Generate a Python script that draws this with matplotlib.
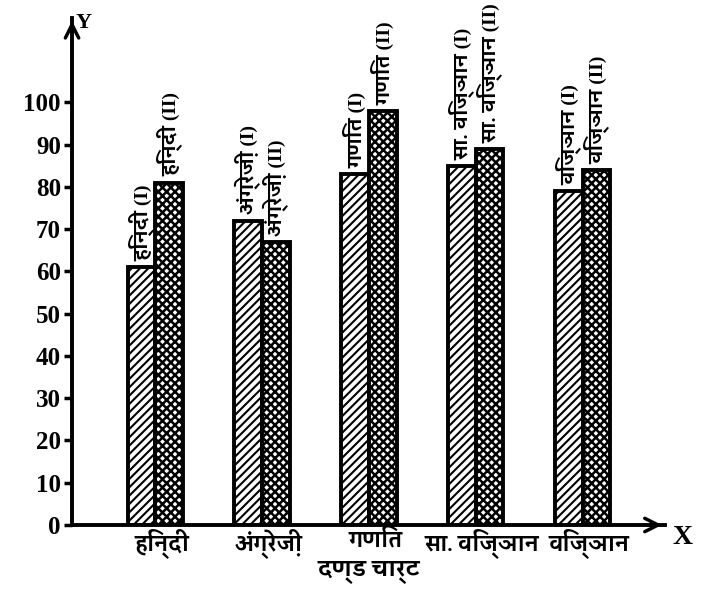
import matplotlib
matplotlib.use("Agg")
import matplotlib.pyplot as plt
import numpy as np

# Data
subjects = ["हिन्दी", "अंग्रेज़ी", "गणित", "सा. विज्ञान", "विज्ञान"]
bar_labels_1 = ["हिन्दी (I)", "अंग्रेज़ी (I)", "गणित (I)", "सा. विज्ञान (I)", "विज्ञान (I)"]
bar_labels_2 = ["हिन्दी (II)", "अंग्रेज़ी (II)", "गणित (II)", "सा. विज्ञान (II)", "विज्ञान (II)"]
marks_1 = [61, 72, 83, 85, 79]
marks_2 = [81, 67, 98, 89, 84]
y_ticks = [0, 10, 20, 30, 40, 50, 60, 70, 80, 90, 100]

# Latin glyphs from the serif face, Devanagari falls through to Kadwa
hindi_font = ["Liberation Serif", "Kadwa", "Noto Sans Devanagari", "DejaVu Sans"]
num_font = ["Liberation Serif", "DejaVu Serif"]

fig = plt.figure(figsize=(7.09, 5.93), dpi=100)
ax = fig.add_axes([0.1016, 0.1147, 0.836, 0.855])

x = np.arange(len(subjects))
w = 0.26
plt.rcParams["hatch.linewidth"] = 1.5
ax.bar(x - w / 2, marks_1, width=w, facecolor="white", edgecolor="black",
       linewidth=2.8, hatch="////")
plt.rcParams["hatch.linewidth"] = 1.8
ax.bar(x + w / 2, marks_2, width=w, facecolor="white", edgecolor="black",
       linewidth=2.8, hatch="xxxx")

# Rotated labels on top of each bar
for i in range(len(subjects)):
    ax.text(x[i] - w / 2, marks_1[i] + 1.5, bar_labels_1[i], rotation=90,
            ha="center", va="bottom", fontsize=14, fontweight="bold",
            family=hindi_font)
    ax.text(x[i] + w / 2, marks_2[i] + 1.5, bar_labels_2[i], rotation=90,
            ha="center", va="bottom", fontsize=14, fontweight="bold",
            family=hindi_font)

ax.set_xlim(-0.78, 4.77)
ax.set_ylim(0, 120)
ax.set_yticks(y_ticks)
ax.set_yticklabels([str(t) for t in y_ticks], family=num_font,
                   fontweight="bold", fontsize=18)
ax.set_xticks(x + 0.06)
ax.set_xticklabels(subjects, family=hindi_font, fontweight="bold", fontsize=15)
ax.tick_params(axis="x", length=0, pad=3)
ax.tick_params(axis="y", length=6, width=2.5, pad=2)

for side in ["top", "right"]:
    ax.spines[side].set_visible(False)
ax.spines["left"].set_linewidth(2.8)
ax.spines["bottom"].set_linewidth(2.8)

# Axis arrows
ax.annotate("", xy=(1.0, 0), xytext=(0.97, 0), xycoords="axes fraction",
            arrowprops=dict(arrowstyle="->", lw=2.5, mutation_scale=24))
ax.annotate("", xy=(0, 1.0), xytext=(0, 0.97), xycoords="axes fraction",
            arrowprops=dict(arrowstyle="->", lw=2.5, mutation_scale=24))
fig.text(0.963, 0.093, "X", family=num_font, fontweight="bold", fontsize=20,
         ha="center", va="center")
fig.text(0.118, 0.962, "Y", family=num_font, fontweight="bold", fontsize=16,
         ha="center", va="center")

fig.text(0.52, 0.035, "दण्ड चार्ट", family=hindi_font, fontweight="bold",
         fontsize=16, ha="center", va="center")

fig.savefig("out.png", dpi=100)
